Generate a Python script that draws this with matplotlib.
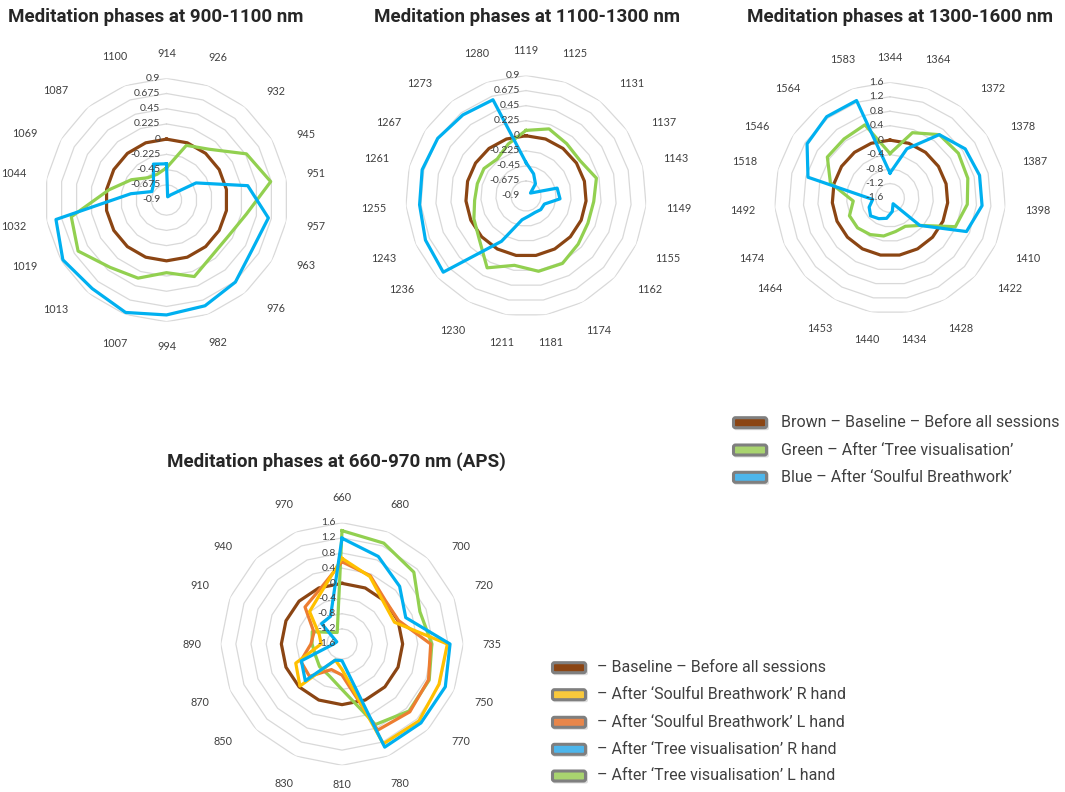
import numpy as np
import matplotlib
matplotlib.use('Agg')
import matplotlib.pyplot as plt
from matplotlib.patches import FancyBboxPatch
from matplotlib.transforms import offset_copy, IdentityTransform

plt.rcParams['font.family'] = ['Lato', 'DejaVu Sans']

# ---- data ----
cats1 = ['914', '926', '932', '945', '951', '957', '963', '976', '982', '994',
         '1007', '1013', '1019', '1032', '1044', '1069', '1087', '1100']
base1 = [0] * 18
green1 = [-0.425, -0.04, 0.08, 0.465, 0.665, 0.3, 0.16, 0.16, 0.305, 0.175,
          0.33, 0.4, 0.61, 0.53, -0.035, -0.3, -0.47, -0.495]
blue1 = [-0.365, -0.85, -0.8, -0.395, 0.32, 0.63, 0.565, 0.685, 0.765, 0.8,
         0.87, 0.81, 0.87, 0.76, -0.365, -0.65, -0.6, -0.335]

cats2 = ['1119', '1125', '1131', '1137', '1143', '1149', '1155', '1162', '1174', '1181',
         '1211', '1230', '1236', '1243', '1255', '1261', '1267', '1273', '1280']
base2 = [0] * 19
green2 = [0.08, 0.16, 0.09, 0.065, 0.185, 0.115, 0.11, 0.16, 0.245, 0.24,
          0.15, 0.32, 0.05, -0.05, -0.13, -0.15, -0.15, -0.2, -0.08]
blue2 = [-0.4, -0.55, -0.67, -0.82, -0.42, -0.39, -0.6, -0.6, -0.62, -0.6,
         -0.54, -0.13, 0.78, 0.74, 0.695, 0.7, 0.675, 0.635, 0.62]

cats3 = ['1344', '1364', '1372', '1378', '1387', '1398', '1410', '1422', '1428', '1434',
         '1440', '1453', '1464', '1474', '1492', '1518', '1546', '1564', '1583']
base3 = [0] * 19
green3 = [-0.37, 0.31, 0.62, 0.66, 0.62, 0.545, 0.375, -0.48, -0.71, -0.66,
          -0.535, -0.45, -0.38, -0.375, -0.58, 0.1, 0.47, 0.47, 0.54]
blue3 = [-0.91, -0.16, 0.62, 0.885, 0.955, 0.955, 0.71, -0.48, -1.42, -1.22,
         -1.03, -0.95, -0.87, -0.97, -1.12, 0.74, 1.14, 1.25, 1.25]

cats4 = ['660', '680', '700', '720', '735', '750', '770', '780',
         '810', '830', '850', '870', '890', '910', '940', '970']
base4 = [0] * 16
green4 = [1.39, 1.28, 1.08, 0.625, 0.77, 0.89, 0.9, 0.7,
          -0.4, -0.7, -0.76, -0.84, -0.81, -0.75, -1.165, -1.27]
orange4 = [0.57, 0.35, 0.02, 0.015, 0.74, 0.87, 0.93, 0.86,
           -0.78, -0.87, -0.39, -0.42, -0.78, -0.8, -0.22, -0.05]
yellow4 = [0.66, 0.325, -0.045, -0.1, 1.18, 1.17, 1.27, 1.25,
           -0.93, -1.14, -0.03, -0.28, -1.05, -0.95, -0.39, -0.14]
blue4 = [1.19, 0.9, 0.55, 0.22, 1.25, 1.35, 1.345, 1.345,
         -1.16, -1.14, -0.23, -0.44, -1.38, -1.45, -0.84, -0.81]

rt_small = [0.9, 0.675, 0.45, 0.225, 0, -0.225, -0.45, -0.675, -0.9]
rl_small = ['0.9', '0.675', '0.45', '0.225', '0', '-0.225', '-0.45', '-0.675', '-0.9']
rt_big = [1.6, 1.2, 0.8, 0.4, 0, -0.4, -0.8, -1.2, -1.6]
rl_big = ['1.6', '1.2', '0.8', '0.4', '0', '-0.4', '-0.8', '-1.2', '-1.6']

titles = ['Meditation phases at 900-1100 nm', 'Meditation phases at 1100-1300 nm',
          'Meditation phases at 1300-1600 nm', 'Meditation phases at 660-970 nm (APS)']

leg1_labels = ['Brown \u2013 Baseline \u2013 Before all sessions',
               'Green \u2013 After \u2018Tree visualisation\u2019',
               'Blue \u2013 After \u2018Soulful Breathwork\u2019']
leg2_labels = ['\u2013 Baseline \u2013 Before all sessions',
               '\u2013 After \u2018Soulful Breathwork\u2019 R hand',
               '\u2013 After \u2018Soulful Breathwork\u2019 L hand',
               '\u2013 After \u2018Tree visualisation\u2019 R hand',
               '\u2013 After \u2018Tree visualisation\u2019 L hand']

BROWN, GREEN, BLUE = '#8B4513', '#92D050', '#00B0F0'
YELLOW, ORANGE = '#FFC000', '#ED7D31'
TXT = '#404040'

W, H = 1065, 792
fig = plt.figure(figsize=(W / 100, H / 100), dpi=100)


def radar(cx, cy, rad, cats, rticks, rlabels, series, colors):
    lo, hi = rticks[-1], rticks[0]
    ax = fig.add_axes([(cx - rad) / W, (H - cy - rad) / H, 2 * rad / W, 2 * rad / H],
                      projection='polar')
    ax.set_theta_zero_location('N')
    ax.set_theta_direction(-1)
    ax.set_ylim(lo, hi)
    ax.set_axis_off()
    n = len(cats)
    ang = np.arange(n + 1) * 2 * np.pi / n
    # excel style polygon rings
    for t in rticks[:-1]:
        ax.plot(ang, [t] * (n + 1), color='#d9d9d9', lw=0.9, zorder=1)
    for vals, c in zip(series, colors):
        ax.plot(ang, list(vals) + [vals[0]], color=c, lw=2.3, zorder=3,
                solid_joinstyle='round')
    tr = offset_copy(ax.transData, fig=fig, x=-6, y=0, units='dots')
    for t, lab in zip(rticks, rlabels):
        ax.text(0, t, lab, transform=tr, ha='right', va='center',
                fontsize=7.5, color=TXT, zorder=4)
    for a, c in zip(ang[:-1], cats):
        s, co = np.sin(a), np.cos(a)
        d = 20 + abs(s) * len(c) * 2.9 + abs(co) * 5 + 3 * abs(np.sin(2 * a))
        # excel nudges diagonal labels toward the horizontal
        b = a
        if abs(s) > 0.5 and abs(co) >= 0.49:
            b = a + np.radians(5.5) * np.sin(2 * a)
        s2, c2 = np.sin(b), np.cos(b)
        px = (rad + d) * s2
        py = (rad + d) * c2
        # keep the bottom labels inside the canvas
        if cy - py > H - 7:
            py = cy - (H - 7)
        ax.text(0, lo, c, transform=offset_copy(ax.transData, fig=fig, x=px, y=py, units='dots'),
                ha='center', va='center', fontsize=7.8, color=TXT)
    return ax


radar(166.5, 200, 121.7, cats1, rt_small, rl_small, [base1, green1, blue1], [BROWN, GREEN, BLUE])
radar(526, 196, 120.5, cats2, rt_small, rl_small, [base2, green2, blue2], [BROWN, GREEN, BLUE])
radar(890, 198, 115.7, cats3, rt_big, rl_big, [base3, green3, blue3], [BROWN, GREEN, BLUE])
radar(342, 644, 121.3, cats4, rt_big, rl_big,
      [base4, green4, orange4, yellow4, blue4], [BROWN, GREEN, ORANGE, YELLOW, BLUE])

for (x, y), t in zip([(155.5, 17), (527.5, 17), (900, 17), (336.5, 462)], titles):
    fig.text(x / W, 1 - y / H, t, ha='center', va='center', fontsize=13.5,
             fontweight='bold', family=['Roboto', 'DejaVu Sans'], color='#262626')


def legend(xb, xt, ys, labels, colors):
    for y, lab, c in zip(ys, labels, colors):
        yb = H - y
        sh = FancyBboxPatch((xb + 2, yb - 7.5), 35, 12, boxstyle='round,pad=0,rounding_size=2',
                            fc='#000000', ec='none', alpha=0.13, transform=IdentityTransform())
        fig.add_artist(sh)
        bx = FancyBboxPatch((xb + 1.5, yb - 5), 33, 10, boxstyle='round,pad=0,rounding_size=2',
                            fc=c, ec='#7f7f7f', lw=2.2, transform=IdentityTransform())
        fig.add_artist(bx)
        fig.text(xt / W, 1 - y / H, lab, ha='left', va='center', fontsize=11.5,
                 family=['Roboto', 'DejaVu Sans'], color=TXT)


legend(732, 781, [422.7, 450, 477.3], leg1_labels, ['#8B4513', '#A9D46F', '#4DB6EC'])
legend(551, 597, [667.7, 694.7, 722.3, 749.3, 776], leg2_labels,
       ['#8B4513', '#F9C93C', '#E8864A', '#4DB6EC', '#A9D46F'])

fig.savefig('out.png', dpi=100, facecolor='white')
